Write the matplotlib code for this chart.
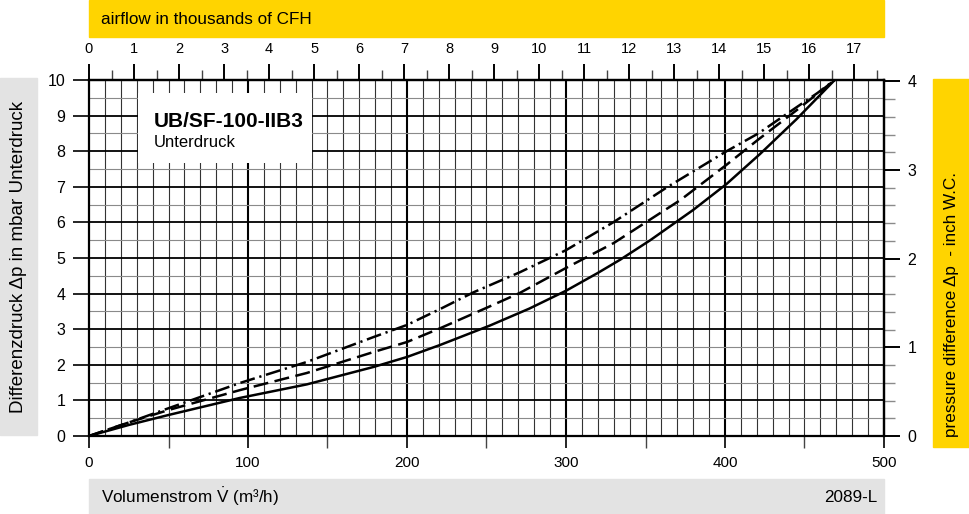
import numpy as np
import matplotlib
matplotlib.use("Agg")
import matplotlib.pyplot as plt
from matplotlib.patches import Rectangle
from matplotlib.ticker import MultipleLocator, FixedLocator

plt.rcParams['font.family'] = ['Liberation Sans', 'DejaVu Sans']
plt.rcParams['mathtext.fontset'] = 'custom'
plt.rcParams['mathtext.rm'] = 'Liberation Sans'
plt.rcParams['mathtext.it'] = 'Liberation Sans'

# ---------------- data ----------------
V_solid = [0, 25, 50, 95, 137, 179, 200, 221, 252, 277, 300, 320, 334, 353, 380, 401, 422, 445, 469]
p_solid = [0, 0.31, 0.59, 1.07, 1.45, 1.94, 2.22, 2.56, 3.10, 3.58, 4.08, 4.58, 4.95, 5.50, 6.35, 7.08, 7.92, 8.90, 10.0]

V_dashed = [0, 25, 50, 95, 137, 179, 200, 221, 250, 271, 300, 330, 372, 401, 421, 445, 469]
p_dashed = [0, 0.38, 0.73, 1.29, 1.77, 2.36, 2.64, 3.03, 3.60, 4.02, 4.72, 5.42, 6.63, 7.62, 8.33, 9.15, 10.0]

V_dashdot = [0, 25, 50, 95, 137, 179, 200, 221, 242, 271, 300, 330, 364, 401, 421, 435, 458, 469]
p_dashdot = [0, 0.38, 0.78, 1.49, 2.08, 2.78, 3.12, 3.57, 4.04, 4.60, 5.22, 6.01, 7.00, 8.00, 8.50, 8.93, 9.63, 10.0]

x_ticks = [0, 100, 200, 300, 400, 500]
y_ticks = [0, 1, 2, 3, 4, 5, 6, 7, 8, 9, 10]
cfh_ticks = list(range(0, 18))
inch_ticks = [0, 1, 2, 3, 4]

title = "UB/SF-100-IIB3"
subtitle = "Unterdruck"
top_label = "airflow in thousands of CFH"
bottom_label = "Volumenstrom $\\mathrm{\\dot{V}}$ (m\u00b3/h)"
code_label = "2089-L"
left_label = "Differenzdruck \u0394p in mbar Unterdruck"
right_label = "pressure difference \u0394p  - inch W.C."

M3H_TO_KCFH = 35.3147 / 1000.0
MBAR_PER_INWC = 2.49089

W, H = 970, 514
YELLOW = '#FFD400'
GREY = '#E3E3E3'

def fx(x):
    return x / W

def fy(y):
    return 1 - y / H

fig = plt.figure(figsize=(W / 100, H / 100), dpi=100)

# background bands
fig.patches.append(Rectangle((fx(89), fy(37)), (884 - 89) / W, 37 / H,
                             transform=fig.transFigure, color=YELLOW, zorder=0))
fig.patches.append(Rectangle((fx(89), fy(514)), (884 - 89) / W, (514 - 479) / H,
                             transform=fig.transFigure, color=GREY, zorder=0))
fig.patches.append(Rectangle((fx(0), fy(435)), 37 / W, (435 - 78) / H,
                             transform=fig.transFigure, color=GREY, zorder=0))
fig.patches.append(Rectangle((fx(933), fy(447)), 37 / W, (447 - 79) / H,
                             transform=fig.transFigure, color=YELLOW, zorder=0))

fig.text(fx(101), fy(19), top_label, fontsize=12.3, ha='left', va='center')
fig.text(fx(101), fy(497), bottom_label, fontsize=12.3, ha='left', va='center')
fig.text(fx(877), fy(497), code_label, fontsize=12.3, ha='right', va='center')
fig.text(fx(19), fy(257), left_label, fontsize=13.5, ha='center', va='center', rotation=90)
fig.text(fx(952), fy(437), right_label, fontsize=12.3, ha='center', va='bottom', rotation=90)

ax = fig.add_axes([fx(89), fy(436), (884 - 89) / W, (436 - 80) / H])
ax.set_xlim(0, 500)
ax.set_ylim(0, 10)
ax.set_facecolor('white')

# grid
for v in np.arange(10, 500, 10):
    if v % 100 == 0:
        ax.axvline(v, color='black', lw=1.5, zorder=1)
    else:
        ax.axvline(v, color='#333333', lw=0.8, zorder=1)
for p in np.arange(0.5, 10, 0.5):
    if abs(p - round(p)) < 1e-9:
        ax.axhline(p, color='black', lw=1.3, zorder=1)
    else:
        ax.axhline(p, color='#8a8a8a', lw=0.8, zorder=1)

# label box
ax.add_patch(Rectangle((31, 7.67), 109.5, 1.96, facecolor='white', edgecolor='none', zorder=2))
ax.text(41, 8.68, title, fontsize=15, fontweight='bold', ha='left', va='baseline', zorder=4)
ax.text(41, 8.12, subtitle, fontsize=12, ha='left', va='baseline', zorder=4)

# curves
lw = 1.8
ax.plot(V_solid, p_solid, color='black', lw=lw, ls='-', zorder=3, solid_joinstyle='round')
ax.plot(V_dashed, p_dashed, color='black', lw=lw, ls=(0, (6, 2.6)), zorder=3)
ax.plot(V_dashdot, p_dashdot, color='black', lw=lw, ls=(0, (6, 1.9, 0.9, 1.9)), zorder=3)

for s in ax.spines.values():
    s.set_linewidth(1.6)
    s.set_zorder(5)

# bottom / left ticks
ax.xaxis.set_major_locator(FixedLocator(x_ticks))
ax.xaxis.set_minor_locator(MultipleLocator(50))
ax.yaxis.set_major_locator(FixedLocator(y_ticks))
ax.tick_params(axis='x', which='major', direction='out', length=8.6, width=1.2,
               pad=6, labelsize=11)
ax.tick_params(axis='x', which='minor', direction='out', length=8.6, width=1.0, color='#444444')
ax.tick_params(axis='y', which='major', direction='out', length=11.5, width=1.2,
               pad=5.5, labelsize=11.5)

# top axis (CFH)
top = ax.secondary_xaxis('top', functions=(lambda v: v * M3H_TO_KCFH,
                                           lambda c: c / M3H_TO_KCFH))
top.xaxis.set_major_locator(FixedLocator(cfh_ticks))
top.xaxis.set_minor_locator(MultipleLocator(0.5))
top.tick_params(axis='x', which='major', direction='out', length=11.5, width=1.4,
                pad=5.5, labelsize=10.5)
top.tick_params(axis='x', which='minor', direction='out', length=7.2, width=1.0, color='#444444')
top.spines['top'].set_linewidth(1.6)

# right axis (inch W.C.)
right = ax.secondary_yaxis('right', functions=(lambda p: p / MBAR_PER_INWC,
                                               lambda i: i * MBAR_PER_INWC))
right.yaxis.set_major_locator(FixedLocator(inch_ticks))
right.yaxis.set_minor_locator(MultipleLocator(0.2))
right.tick_params(axis='y', which='major', direction='out', length=11.5, width=1.4,
                  pad=5.5, labelsize=11.5)
right.tick_params(axis='y', which='minor', direction='out', length=8, width=1.0, color='#8a8a8a')
right.spines['right'].set_linewidth(1.6)

fig.savefig('out.png', dpi=100)
